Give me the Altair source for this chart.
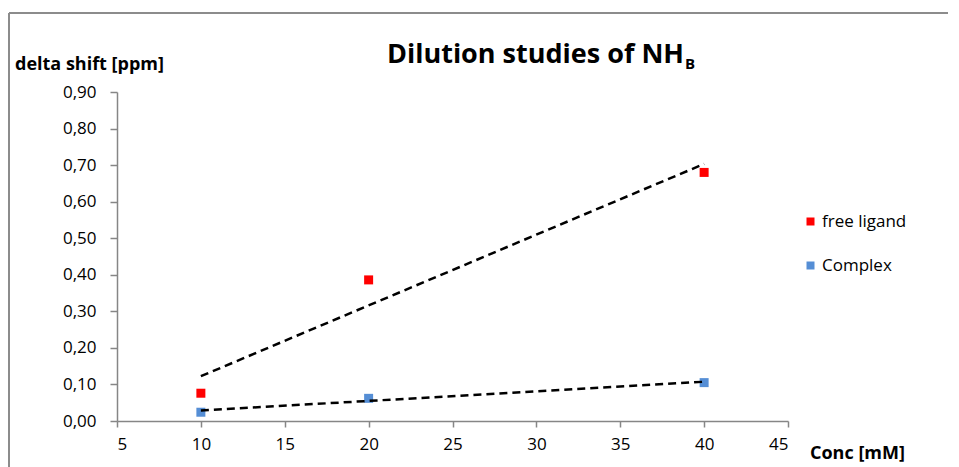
import altair as alt
import pandas as pd

conc = [10, 20, 40]
free_ligand = [0.076, 0.386, 0.68]
complex_vals = [0.024, 0.062, 0.105]
series_names = ["free ligand", "Complex"]
series_colors = ["#FF0000", "#558ED5"]
x_ticks = [5, 10, 15, 20, 25, 30, 35, 40, 45]
y_ticks = [0, 0.1, 0.2, 0.3, 0.4, 0.5, 0.6, 0.7, 0.8, 0.9]

rows = []
for c, v in zip(conc, free_ligand):
    rows.append({"conc": c, "shift": v, "series": "free ligand"})
for c, v in zip(conc, complex_vals):
    rows.append({"conc": c, "shift": v, "series": "Complex"})
df = pd.DataFrame(rows)

FONT = "Open Sans"
W, H = 671, 329

x_axis = alt.Axis(values=x_ticks, title=None,
                  grid=False, domainColor="#868686", tickColor="#868686",
                  tickSize=6, labelFontSize=17, labelFont=FONT, labelColor="#000000",
                  labelPadding=9, domainWidth=1.5, tickWidth=1.5, labelOverlap=False)
y_axis = alt.Axis(values=y_ticks, title=None,
                  grid=False, domainColor="#868686", tickColor="#868686",
                  tickSize=7, labelFontSize=17, labelFont=FONT, labelColor="#000000",
                  labelPadding=14, domainWidth=1.5, tickWidth=1.5, labelOverlap=False,
                  labelExpr="replace(format(datum.value, '.2f'), '.', ',')")
x_scale = alt.Scale(domain=[5, 45], nice=False, zero=False)
y_scale = alt.Scale(domain=[0, 0.9], nice=False)

color = alt.Color("series:N", scale=alt.Scale(domain=series_names, range=series_colors),
                  legend=alt.Legend(title=None, orient="none", legendX=W + 14, legendY=121,
                                    symbolType="square", symbolSize=64, symbolStrokeWidth=0,
                                    labelFontSize=17, labelFont=FONT, labelColor="#000000",
                                    rowPadding=26, labelOffset=3, padding=0))

base = alt.Chart(df)

points = base.mark_point(shape="square", filled=True, size=81, opacity=1).encode(
    x=alt.X("conc:Q", scale=x_scale, axis=x_axis),
    y=alt.Y("shift:Q", scale=y_scale, axis=y_axis),
    color=color)

trend = base.transform_regression("conc", "shift", groupby=["series"], extent=[10, 40]).mark_line(
    color="black", strokeDash=[8, 5], strokeWidth=2.5).encode(
    x=alt.X("conc:Q", scale=x_scale, axis=x_axis),
    y=alt.Y("shift:Q", scale=y_scale, axis=y_axis),
    detail="series:N")

title_main = alt.Chart(pd.DataFrame({"t": ["Dilution studies of NH"]})).mark_text(
    font=FONT, fontSize=27, fontWeight="bold", align="right", baseline="alphabetic", color="black"
).encode(text="t:N", x=alt.value(567), y=alt.value(-29))

title_sub = alt.Chart(pd.DataFrame({"t": ["B"]})).mark_text(
    font=FONT, fontSize=15, fontWeight="bold", align="left", baseline="alphabetic", color="black"
).encode(text="t:N", x=alt.value(568), y=alt.value(-23))

ytitle = alt.Chart(pd.DataFrame({"t": ["delta shift [ppm]"]})).mark_text(
    font=FONT, fontSize=18, fontWeight="bold", align="left", baseline="alphabetic", color="black"
).encode(text="t:N", x=alt.value(-102), y=alt.value(-22))

xtitle = alt.Chart(pd.DataFrame({"t": ["Conc [mM]"]})).mark_text(
    font=FONT, fontSize=18, fontWeight="bold", align="left", baseline="alphabetic", color="black"
).encode(text="t:N", x=alt.value(693), y=alt.value(367))

frame_top = alt.Chart(pd.DataFrame({"a": [0]})).mark_rule(color="#8C8C8C", strokeWidth=2).encode(
    x=alt.value(-108), x2=alt.value(841), y=alt.value(-79))
frame_left = alt.Chart(pd.DataFrame({"a": [0]})).mark_rule(color="#8C8C8C", strokeWidth=2).encode(
    x=alt.value(-108), y=alt.value(-79), y2=alt.value(390))

chart = alt.layer(frame_top, frame_left, points, trend, title_main, title_sub, ytitle, xtitle).properties(
    width=W, height=H,
    autosize=alt.AutoSizeParams(type="none"),
    padding={"left": 109, "top": 84, "right": 160, "bottom": 50},
).configure_view(stroke=None)

chart.save("out.html", embed_options={"renderer": "svg", "actions": False})
